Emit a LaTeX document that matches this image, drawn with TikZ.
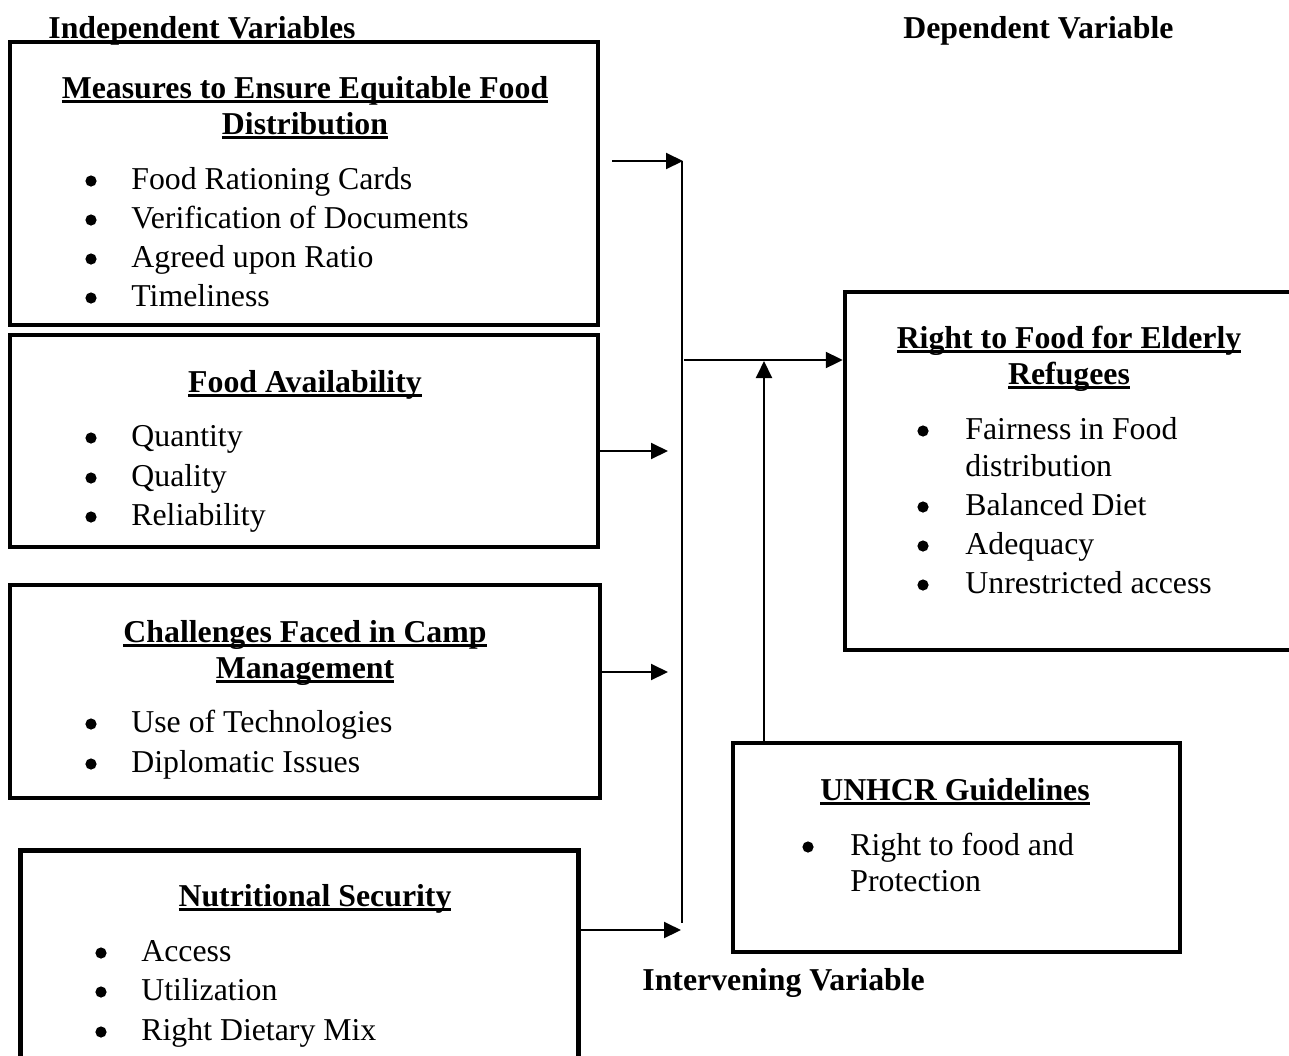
\documentclass[tikz,border=0pt]{standalone}
\usepackage{fontspec}
\setmainfont{Liberation Serif}
\usetikzlibrary{arrows.meta,fit}
\newcommand\ulx[1]{\setbox0\hbox{#1}\rlap{\rule[-2.6pt]{\wd0}{1.5pt}}\box0}
\begin{document}
\begin{tikzpicture}[x=0.5pt,y=-0.5pt,
  box/.style={draw, line width=2.2pt, inner sep=0pt},
  arr/.style={line width=1pt, -{Triangle[length=8.5pt,width=8pt]}},
  ln/.style={line width=1pt},
  ttl/.style={font=\bfseries, anchor=base, inner sep=0pt},
  hdr/.style={font=\bfseries, anchor=base west, inner sep=0pt},
  itm/.style={anchor=base west, inner sep=0pt},
  bul/.style={circle, fill, inner sep=0pt, minimum size=5.6pt}]
\fontsize{15.9pt}{19.5pt}\selectfont
\useasboundingbox (0,0) rectangle (1289,1055);
\clip (0,0) rectangle (1289,1055);
% headers
\node[hdr] (hind) at (48,38) {Independent Variables};
\node[hdr] (hdep) at (903,38) {Dependent Variable};
\node[hdr] (hint) at (642,990) {Intervening Variable};
% boxes
\node[box, fit={(10,42)(598,325)}] (b1) {};
\node[box, fit={(10,335)(598,547)}] (b2) {};
\node[box, fit={(10,585)(600,798)}] (b3) {};
\node[box, line width=2.5pt, fit={(20,850)(578,1075)}] (b4) {};
\node[box, fit={(845,292)(1300,650)}] (rb) {};
\node[box, fit={(733,743)(1180,952)}] (ub) {};
% box 1
\node[ttl] (t1a) at (305,98) {\ulx{Measures to Ensure Equitable Food}};
\node[ttl] (t1b) at (305,134) {\ulx{Distribution}};
\foreach \y/\t [count=\i] in {189/Food Rationing Cards,228/Verification of Documents,267/Agreed upon Ratio,306/Timeliness}{
  \node[bul] (b1d\i) at (91,\y-8) {};
  \node[itm] (b1i\i) at (131,\y) {\t};
}
% box 2
\node[ttl] (t2) at (305,392) {\ulx{Food Availability}};
\foreach \y/\t [count=\i] in {446/Quantity,486/Quality,525/Reliability}{
  \node[bul] (b2d\i) at (91,\y-8) {};
  \node[itm] (b2i\i) at (131,\y) {\t};
}
% box 3
\node[ttl] (t3a) at (305,642) {\ulx{Challenges Faced in Camp}};
\node[ttl] (t3b) at (305,678) {\ulx{Management}};
\foreach \y/\t [count=\i] in {732/Use of Technologies,772/Diplomatic Issues}{
  \node[bul] (b3d\i) at (91,\y-8) {};
  \node[itm] (b3i\i) at (131,\y) {\t};
}
% box 4
\node[ttl] (t4) at (315,906) {\ulx{Nutritional Security}};
\foreach \y/\t [count=\i] in {961/Access,1000/Utilization,1040/Right Dietary Mix}{
  \node[bul] (b4d\i) at (101,\y-8) {};
  \node[itm] (b4i\i) at (141,\y) {\t};
}
% right box
\node[ttl] (tra) at (1069,348) {\ulx{Right to Food for Elderly}};
\node[ttl] (trb) at (1069,384) {\ulx{Refugees}};
\node[bul] (rd1) at (923,431) {};
\node[itm] (ri1) at (965,439) {Fairness in Food};
\node[itm] (ri1b) at (965,476) {distribution};
\node[bul] (rd2) at (923,507) {};
\node[itm] (ri2) at (965,515) {Balanced Diet};
\node[bul] (rd3) at (923,546) {};
\node[itm] (ri3) at (965,554) {Adequacy};
\node[bul] (rd4) at (923,585) {};
\node[itm] (ri4) at (965,593) {Unrestricted access};
% UNHCR box
\node[ttl] (tu) at (955,800) {\ulx{UNHCR Guidelines}};
\node[bul] (ud1) at (808,847) {};
\node[itm] (ui1) at (850,855) {Right to food and};
\node[itm] (ui1b) at (850,891) {Protection};
% connectors
\coordinate (vt) at (682,161);
\coordinate (vb) at (682,923);
\coordinate (a1) at (612,161);
\coordinate (e2) at (668,451);
\coordinate (e3) at (668,672);
\coordinate (e4) at (681,930);
\coordinate (m1) at (684,360);
\coordinate (up) at (764,361);
\draw[ln] (vt) -- (vb);
\draw[arr] (a1) -- ([xshift=0.5pt]vt);
\draw[arr] (b2.east |- e2) -- (e2);
\draw[arr] (b3.east |- e3) -- (e3);
\draw[arr] (b4.east |- e4) -- (e4);
\draw[arr] (m1) -- (m1 -| rb.west);
\draw[arr] (ub.north -| up) -- (up);
\end{tikzpicture}
\end{document}
